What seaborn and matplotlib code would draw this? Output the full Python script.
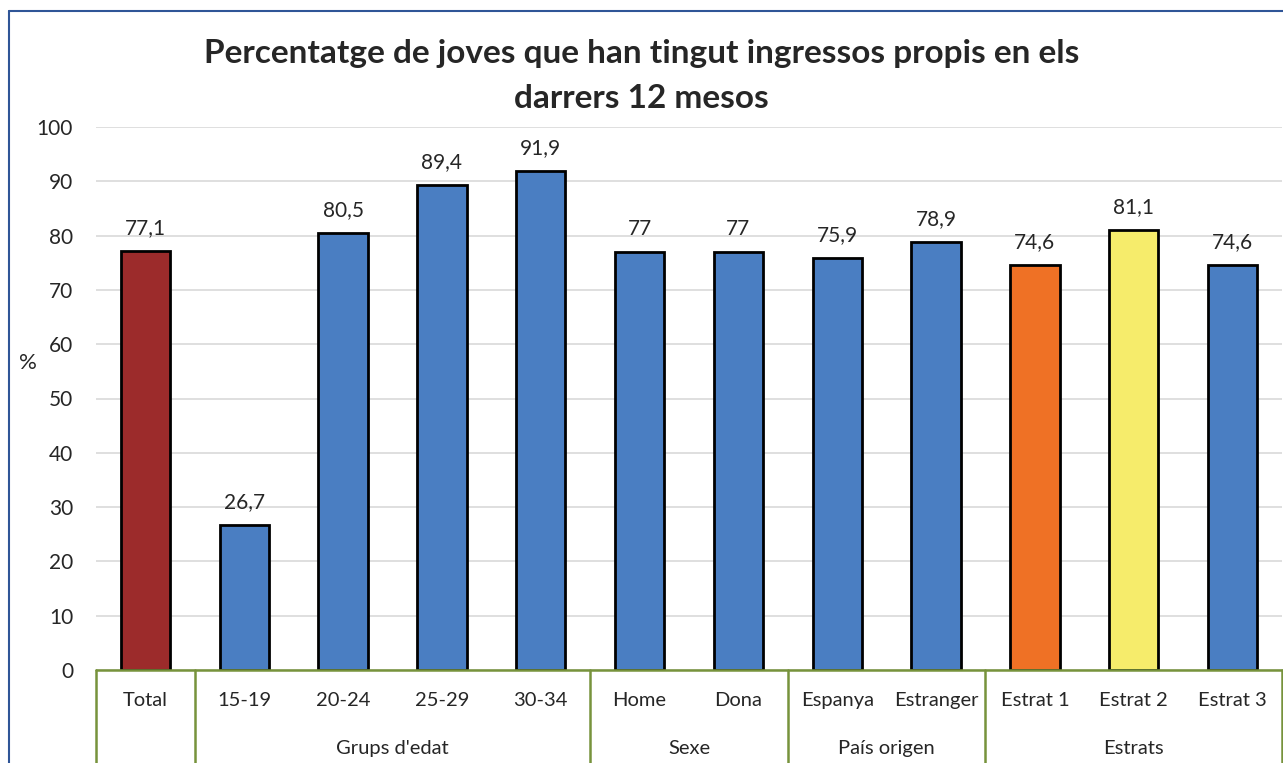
import matplotlib
matplotlib.use("Agg")
import matplotlib.pyplot as plt
import matplotlib.transforms as mtransforms
from matplotlib.lines import Line2D
import pandas as pd
import seaborn as sns

# --- data
categories = ["Total", "15-19", "20-24", "25-29", "30-34", "Home", "Dona",
              "Espanya", "Estranger", "Estrat 1", "Estrat 2", "Estrat 3"]
values = [77.1, 26.7, 80.5, 89.4, 91.9, 77, 77, 75.9, 78.9, 74.6, 81.1, 74.6]
group_names = ["", "Grups d'edat", "Sexe", "País origen", "Estrats"]
group_sizes = [1, 4, 2, 2, 3]
bar_colors = ["#9C2B2B", "#4A7EC2", "#4A7EC2", "#4A7EC2", "#4A7EC2", "#4A7EC2", "#4A7EC2",
              "#4A7EC2", "#4A7EC2", "#EF7125", "#F6EC6B", "#4A7EC2"]

sns.set_theme(style="white")
plt.rcParams["font.family"] = ["Lato", "DejaVu Sans"]

df = pd.DataFrame({"cat": categories, "val": values})

W, H = 1283, 763
fig = plt.figure(figsize=(W / 100, H / 100), dpi=100)
ax = fig.add_axes([96 / W, 1 - 670 / H, (1282 - 96) / W, (670 - 127) / H])

sns.barplot(data=df, x="cat", y="val", hue="cat", palette=bar_colors, legend=False,
            width=0.5, edgecolor="black", linewidth=2, saturation=1, ax=ax)

ax.set_ylim(0, 100)
ax.set_xlim(-0.5, len(categories) - 0.5)
ax.set_yticks(range(0, 101, 10))
ax.yaxis.grid(True, color="#D9D9D9", linewidth=1.2)
ax.set_axisbelow(True)
for side in ["top", "right", "left", "bottom"]:
    ax.spines[side].set_visible(False)
ax.tick_params(axis="y", length=0, pad=16.5, labelsize=15, labelcolor="#262626")
ax.set_xticks([])
ax.set_xlabel("")
ax.set_ylabel("")


def fmt(v):
    if float(v).is_integer():
        return str(int(v))
    return f"{v:.1f}".replace(".", ",")


for i, v in enumerate(values):
    ax.text(i, v + 3.1, fmt(v), ha="center", va="baseline", fontsize=15, color="#262626")

# --- two-level category axis drawn as a table
trans = mtransforms.blended_transform_factory(ax.transData, ax.transAxes)
green = "#77933C"
bottom = -0.2
ax.add_line(Line2D([-0.5, len(categories) - 0.5], [0, 0], transform=trans,
                   color=green, linewidth=1.8, clip_on=False))
for i, c in enumerate(categories):
    ax.text(i, -0.057, c, transform=trans, ha="center", va="center",
            fontsize=14.5, color="#262626")
start = -0.5
for name, size in zip(group_names, group_sizes):
    ax.add_line(Line2D([start, start], [0, bottom], transform=trans,
                       color=green, linewidth=1.8, clip_on=False))
    if name:
        ax.text(start + size / 2, -0.144, name, transform=trans, ha="center", va="center",
                fontsize=14.5, color="#262626")
    start += size
ax.add_line(Line2D([start, start], [0, bottom], transform=trans,
                   color=green, linewidth=1.8, clip_on=False))

fig.text(28 / W, 1 - 363 / H, "%", ha="center", va="center", fontsize=16, color="#262626")

fig.text(0.5, 1 - 54 / H, "Percentatge de joves que han tingut ingressos propis en els",
         ha="center", va="center", fontsize=24, fontweight="bold", color="#262626")
fig.text(0.5, 1 - 98 / H, "darrers 12 mesos",
         ha="center", va="center", fontsize=24, fontweight="bold", color="#262626")

# frame of the chart area
fig.add_artist(Line2D([9 / W, 9 / W], [0, 1 - 11 / H], transform=fig.transFigure,
                      color="#2F5597", linewidth=1.5))
fig.add_artist(Line2D([9 / W, 1], [1 - 11 / H, 1 - 11 / H], transform=fig.transFigure,
                      color="#2F5597", linewidth=1.5))

fig.savefig("out.png", dpi=100)
